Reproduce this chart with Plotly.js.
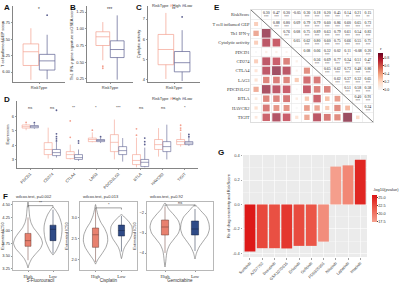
<!DOCTYPE html>
<html><head><meta charset="utf-8">
<script src="https://cdn.plot.ly/plotly-3.0.1.min.js"></script>
<style>html,body{margin:0;padding:0;background:#fff}#chart{width:400px;height:285px}</style>
</head><body><div id="chart"></div>
<script>
// ---------------- DATA ----------------
const groups = ["High", "Low"];
// Panel A - T cell inflamed GEP score
const A_q1 = [6.10, 6.03], A_med = [6.31, 6.17], A_q3 = [6.43, 6.27], A_lo = [5.88, 5.89], A_hi = [6.67, 6.57];
const A_outGroup = [1], A_outVal = [6.87], A_sig = "*";
// Panel B - Th1 IFN-γ gene signature ssGSEA score
const B_q1 = [0.75, 0.57], B_med = [0.88, 0.69], B_q3 = [0.955, 0.82], B_lo = [0.53, 0.24], B_hi = [1.10, 1.20];
const B_outGroup = [0, 0], B_outVal = [0.44, 0.41], B_sig = "***";
// Panel C - Cytolytic activity
const C_q1 = [4.75, 4.40], C_med = [5.50, 4.85], C_q3 = [6.24, 5.40], C_lo = [4.05, 3.95], C_hi = [7.30, 6.45];
const C_outGroup = [1], C_outVal = [7.10], C_sig = "**";
// Panel D - checkpoint expression
const D_genes = ["PDCD1", "CD274", "CTLA4", "LAG3", "PDCD1LG2", "BTLA", "HAVCR2", "TIGIT"];
const D_high_q1  = [5.20, 3.34, 3.06, 4.25, 3.55, 2.64, 3.70, 4.04];
const D_high_med = [5.30, 3.70, 3.34, 4.40, 4.20, 2.93, 4.04, 4.25];
const D_high_q3  = [5.42, 4.18, 3.55, 4.50, 4.74, 3.34, 4.40, 4.40];
const D_high_lo  = [5.05, 3.06, 3.00, 4.20, 3.00, 2.45, 3.20, 3.90];
const D_high_hi  = [5.50, 5.23, 4.04, 4.90, 5.80, 4.53, 5.20, 4.90];
const D_low_q1   = [5.22, 3.27, 3.00, 4.25, 3.34, 2.50, 3.55, 4.04];
const D_low_med  = [5.30, 3.48, 3.13, 4.33, 3.62, 2.80, 3.90, 4.15];
const D_low_q3   = [5.38, 3.70, 3.34, 4.40, 3.90, 3.00, 4.25, 4.25];
const D_low_lo   = [5.15, 3.13, 2.90, 4.15, 2.85, 2.45, 3.00, 3.95];
const D_low_hi   = [5.50, 4.25, 3.70, 4.55, 4.50, 3.83, 5.44, 4.60];
const D_sig = ["ns", "ns", "**", "*", "***", "ns", "ns", "*"];
const D_outHighGene = [0, 2, 2, 3, 5, 5, 7, 7, 7];
const D_outHighVal  = [5.60, 5.70, 4.55, 5.05, 5.15, 4.70, 5.40, 5.20, 5.05];
const D_outLowGene  = [0, 1, 1, 1, 1, 1, 2, 2, 3, 5, 5, 5, 7, 7];
const D_outLowVal   = [5.58, 6.45, 4.80, 4.60, 4.45, 4.30, 4.30, 4.15, 4.60, 4.50, 4.25, 4.05, 4.75, 4.60];
// Panel E - correlation matrix (upper triangle, row by row)
const E_labels = ["RiskScore", "T cell inflamed GEP", "Th1 IFN-γ", "Cytolytic activity", "PDCD1", "CD274", "CTLA4", "LAG3", "PDCD1LG2", "BTLA", "HAVCR2", "TIGIT"];
const E_r0 = [0.30, 0.47, 0.30, -0.05, 0.30, 0.18, 0.20, 0.45, 0.14, 0.21, 0.15];
const E_r1 = [0.88, 0.80, 0.09, 0.79, 0.79, 0.60, 0.86, 0.60, 0.65, 0.73];
const E_r2 = [0.76, 0.08, 0.75, 0.89, 0.63, 0.79, 0.61, 0.54, 0.83];
const E_r3 = [0.05, 0.62, 0.80, 0.60, 0.75, 0.66, 0.55, 0.75];
const E_r4 = [0.08, 0.06, 0.32, 0.02, 0.11, -0.08, 0.20];
const E_r5 = [0.56, 0.69, 0.77, 0.34, 0.51, 0.47];
const E_r6 = [0.65, 0.62, 0.73, 0.48, 0.80];
const E_r7 = [0.62, 0.37, 0.32, 0.65];
const E_r8 = [0.51, 0.58, 0.58];
const E_r9 = [0.40, 0.91];
const E_r10 = [0.24];
const E_s0 = ["***", "***", "***", "", "***", "***", "***", "***", "**", "***", "**"];
const E_s1 = ["***", "***", "", "***", "***", "***", "***", "***", "***", "***"];
const E_s2 = ["***", "", "***", "***", "***", "***", "***", "***", "***"];
const E_s3 = ["", "***", "***", "***", "***", "***", "***", "***"];
const E_s4 = ["", "", "***", "", "*", "", "***"];
const E_s5 = ["***", "***", "***", "***", "***", "***"];
const E_s6 = ["***", "***", "***", "***", "***"];
const E_s7 = ["***", "***", "***", "***"];
const E_s8 = ["***", "***", "***"];
const E_s9 = ["***", "***"];
const E_s10 = ["***"];
// Panel F - estimated IC50
const F_drugs = ["5-Fluorouracil", "Cisplatin", "Gemcitabine"];
const F_titles = ["wilcox.test, p=0.002", "wilcox.test, p=0.013", "wilcox.test, p=0.92"];
const F_sig = ["**", "*", "ns"];
const F_high_q1 = [3.69, 2.30, -3.10], F_high_med = [3.80, 2.60, -2.70], F_high_q3 = [3.94, 2.76, -2.35], F_high_lo = [3.42, 1.95, -4.00], F_high_hi = [4.25, 3.20, -1.70];
const F_low_q1 = [3.80, 2.57, -3.10], F_low_med = [4.02, 2.70, -2.80], F_low_q3 = [4.10, 2.83, -2.40], F_low_lo = [3.55, 2.20, -3.90], F_low_hi = [4.40, 3.05, -1.80];
const F_bracket = [4.48, 3.24, -1.60];
// violin density profiles: levels and half-widths
const F1_high_lv = [4.55, 4.45, 4.35, 4.25, 4.15, 4.05, 3.95, 3.85, 3.75, 3.65, 3.55, 3.45, 3.35, 3.27];
const F1_high_w  = [0.00, 0.03, 0.05, 0.07, 0.12, 0.22, 0.38, 0.52, 0.58, 0.50, 0.32, 0.15, 0.05, 0.00];
const F1_low_lv  = [4.45, 4.38, 4.30, 4.20, 4.10, 4.00, 3.90, 3.80, 3.70, 3.60, 3.52];
const F1_low_w   = [0.00, 0.12, 0.22, 0.30, 0.35, 0.36, 0.34, 0.30, 0.22, 0.12, 0.00];
const F2_high_lv = [3.32, 3.20, 3.05, 2.90, 2.75, 2.60, 2.45, 2.30, 2.15, 2.00, 1.90];
const F2_high_w  = [0.00, 0.04, 0.10, 0.20, 0.35, 0.45, 0.47, 0.40, 0.25, 0.08, 0.00];
const F2_low_lv  = [3.08, 3.00, 2.90, 2.80, 2.70, 2.60, 2.50, 2.40, 2.30, 2.20, 2.10, 2.03];
const F2_low_w   = [0.00, 0.15, 0.30, 0.40, 0.42, 0.40, 0.33, 0.22, 0.12, 0.06, 0.03, 0.00];
const F3_high_lv = [-1.5, -1.8, -2.1, -2.4, -2.7, -3.0, -3.3, -3.6, -3.9, -4.2, -4.5, -4.7];
const F3_high_w  = [0.00, 0.12, 0.30, 0.45, 0.50, 0.45, 0.30, 0.15, 0.07, 0.04, 0.02, 0.00];
const F3_low_lv  = [-1.6, -1.9, -2.2, -2.5, -2.8, -3.1, -3.4, -3.7, -4.0, -4.3];
const F3_low_w   = [0.00, 0.20, 0.38, 0.46, 0.48, 0.42, 0.28, 0.14, 0.05, 0.00];
// Panel G - drug sensitivity correlation
const G_drugs = ["Sunitinib", "AZD7762", "Bosutinib", "GSK1070916", "Erlotinib", "Gefitinib", "PD0325901", "Nilotinib", "Lapatinib", "Imatinib"];
const G_rs = [-0.385, -0.358, -0.358, -0.36, -0.339, -0.339, -0.304, 0.31, 0.32, 0.366];
const G_mlogp = [25.6, 22.8, 22.3, 23.8, 22.6, 22.0, 18.5, 17.4, 18.9, 24.8];

// ---------------- STYLE / HELPERS ----------------
const W = 400, H = 285;
const colHigh = "#F3A08F", colLow = "#5C6090";
const gcol = [colHigh, colLow];
const dodge = [-0.1875, 0.1875];
const SANS = "Liberation Sans, Arial, sans-serif", SERIF = "Liberation Serif, Times New Roman, serif";
function xd(a, b) { return [a / W, b / W]; }
function yd(t, b) { return [1 - b / H, 1 - t / H]; }
function statBox(xa, ya, xs, q1, med, q3, lo, hi, lc, fill, width, lw) {
  return {type: 'box', xaxis: xa, yaxis: ya, x: xs, q1: q1, median: med, q3: q3, lowerfence: lo, upperfence: hi,
    width: width, line: {color: lc, width: lw}, fillcolor: fill, whiskerwidth: 0, boxpoints: false, hoverinfo: 'skip', showlegend: false};
}
const tickF = {size: 4, family: SANS, color: '#333'};
function classic(extra) {
  return Object.assign({type: 'linear', showline: true, linecolor: '#333', linewidth: 0.6, ticks: 'outside', ticklen: 1.5, tickwidth: 0.5,
    tickcolor: '#333', showgrid: false, zeroline: false, tickfont: tickF, automargin: false, fixedrange: true}, extra);
}
const traces = [], annotations = [], shapes = [];
const layout = {width: W, height: H, margin: {l: 0, r: 0, t: 0, b: 0, autoexpand: false}, showlegend: false, boxmode: 'overlay',
  paper_bgcolor: '#fff', plot_bgcolor: 'rgba(0,0,0,0)', font: {family: SANS, size: 4, color: '#333'}};

// ---------------- PANELS A-C ----------------
const ABC = [
  {id: '', q1: A_q1, med: A_med, q3: A_q3, lo: A_lo, hi: A_hi, og: A_outGroup, ov: A_outVal, sig: A_sig,
   dom: [13, 65], range: [5.847, 7.01], tv: [6.00, 6.25, 6.50, 6.75], fmt: '.2f', title: 'T cell inflamed GEP score'},
  {id: '2', q1: B_q1, med: B_med, q3: B_q3, lo: B_lo, hi: B_hi, og: B_outGroup, ov: B_outVal, sig: B_sig,
   dom: [87, 133], range: [0.205, 1.34], tv: [0.25, 0.50, 0.75, 1.00, 1.25], fmt: '.2f', title: 'Th1 IFN-γ gene signature ssGSEA score'},
  {id: '3', q1: C_q1, med: C_med, q3: C_q3, lo: C_lo, hi: C_hi, og: C_outGroup, ov: C_outVal, sig: C_sig,
   dom: [148, 200], range: [3.9, 7.64], tv: [4, 5, 6, 7], fmt: 'd', title: 'Cytolytic activity'}
];
ABC.forEach(p => {
  const xa = 'x' + p.id, ya = 'y' + p.id;
  [0, 1].forEach(g => traces.push(statBox(xa, ya, [dodge[g]], [p.q1[g]], [p.med[g]], [p.q3[g]], [p.lo[g]], [p.hi[g]], gcol[g], '#fff', 0.36, 0.7)));
  traces.push({type: 'scatter', mode: 'markers', xaxis: xa, yaxis: ya, x: p.og.map(g => dodge[g]), y: p.ov,
    marker: {size: 1.8, color: p.og.map(g => gcol[g])}, hoverinfo: 'skip'});
  layout['xaxis' + p.id] = classic({domain: xd(p.dom[0], p.dom[1]), anchor: ya, range: [-0.6, 0.6], tickmode: 'array', tickvals: [0], ticktext: ['RiskType']});
  layout['yaxis' + p.id] = classic({domain: yd(6, 82), anchor: xa, range: p.range, tickmode: 'array', tickvals: p.tv, tickformat: p.fmt,
    title: {text: p.title, font: {size: 4, family: SANS, color: '#333'}, standoff: 2}});
  annotations.push({xref: xa, yref: 'paper', x: 0, y: 1 - 5 / H, yanchor: 'top', text: p.sig, showarrow: false, font: {size: 4.5, color: '#333'}});
});
const legText = "RiskType <span style='color:" + colHigh + "'>⊟</span>High <span style='color:" + colLow + "'>⊟</span>Low";
annotations.push({xref: 'paper', yref: 'paper', x: 150 / W, y: 1 - 1 / H, xanchor: 'left', yanchor: 'top', text: legText, showarrow: false, font: {size: 4, color: '#333'}});

// ---------------- PANEL D ----------------
const dHX = D_genes.map((_, i) => i + dodge[0]), dLX = D_genes.map((_, i) => i + dodge[1]);
traces.push(statBox('x4', 'y4', dHX, D_high_q1, D_high_med, D_high_q3, D_high_lo, D_high_hi, colHigh, '#fff', 0.36, 0.6));
traces.push(statBox('x4', 'y4', dLX, D_low_q1, D_low_med, D_low_q3, D_low_lo, D_low_hi, colLow, '#fff', 0.36, 0.6));
traces.push({type: 'scatter', mode: 'markers', xaxis: 'x4', yaxis: 'y4', x: D_outHighGene.map(i => i + dodge[0]), y: D_outHighVal, marker: {size: 1.8, color: colHigh}, hoverinfo: 'skip'});
traces.push({type: 'scatter', mode: 'markers', xaxis: 'x4', yaxis: 'y4', x: D_outLowGene.map(i => i + dodge[1]), y: D_outLowVal, marker: {size: 1.8, color: colLow}, hoverinfo: 'skip'});
layout.xaxis4 = classic({domain: xd(17, 198), anchor: 'y4', range: [-0.6, D_genes.length - 0.4], tickmode: 'array', tickvals: D_genes.map((_, i) => i), ticktext: D_genes, tickangle: -45});
layout.yaxis4 = classic({domain: yd(101, 168), anchor: 'x4', range: [2.4, 7.1], tickmode: 'array', tickvals: [3, 4, 5, 6],
  title: {text: 'Expression', font: {size: 4, family: SANS, color: '#333'}, standoff: 2}});
D_sig.forEach((s, i) => annotations.push({xref: 'x4', yref: 'paper', x: i, y: 1 - 103 / H, yanchor: 'top', text: s, showarrow: false, font: {size: 4, color: '#333'}}));
annotations.push({xref: 'paper', yref: 'paper', x: 150 / W, y: 1 - 94 / H, xanchor: 'left', yanchor: 'top', text: legText, showarrow: false, font: {size: 4, color: '#333'}});

// ---------------- PANEL E ----------------
const E_upper = [E_r0, E_r1, E_r2, E_r3, E_r4, E_r5, E_r6, E_r7, E_r8, E_r9, E_r10];
const E_stars = [E_s0, E_s1, E_s2, E_s3, E_s4, E_s5, E_s6, E_s7, E_s8, E_s9, E_s10];
const n = E_labels.length;
const M = [...Array(n)].map(() => Array(n).fill(1));
E_upper.forEach((row, i) => row.forEach((v, k) => { const j = i + 1 + k; M[i][j] = v; M[j][i] = v; }));
const lx = [], ly = [], ls = [], lc = [];
for (let i = 0; i < n; i++) for (let j = 0; j < i; j++) { lx.push(j); ly.push(i); ls.push(1.6 + 8 * Math.abs(M[i][j])); lc.push(M[i][j]); }
const E_scale = [[0, '#F7F7F7'], [0.22, '#FDDBC7'], [0.42, '#F4A582'], [0.62, '#D6604D'], [0.82, '#B2182B'], [1, '#67001F']];
traces.push({type: 'scatter', mode: 'markers', xaxis: 'x5', yaxis: 'y5', x: lx, y: ly, hoverinfo: 'skip',
  marker: {symbol: 'square', size: ls, color: lc, colorscale: E_scale, cmin: -0.02, cmax: 0.93, line: {width: 0},
    showscale: true, colorbar: {x: 378 / W, xanchor: 'left', y: 1 - 53 / H, yanchor: 'top', len: 37, lenmode: 'pixels', ypad: 0, xpad: 0,
      thickness: 5, thicknessmode: 'pixels', outlinewidth: 0, ticklen: 1, tickmode: 'array', tickvals: [0, 0.2, 0.4, 0.6, 0.8], ticktext: ['0.0', '0.2', '0.4', '0.6', '0.8'],
      tickfont: {size: 4, family: SERIF, color: '#333'}}}});
annotations.push({xref: 'paper', yref: 'paper', x: 378 / W, y: 1 - 53 / H, xanchor: 'left', yanchor: 'bottom', text: 'r', showarrow: false, font: {size: 5, family: SERIF, color: '#333'}});
const ux = [], uy = [], ut = [], sy = [], st = [];
E_upper.forEach((row, i) => row.forEach((v, k) => { const j = i + 1 + k; ux.push(j); uy.push(i - 0.12); ut.push(v.toFixed(2)); sy.push(i + 0.3); st.push(E_stars[i][k]); }));
traces.push({type: 'scatter', mode: 'text', xaxis: 'x5', yaxis: 'y5', x: ux, y: uy, text: ut, textfont: {size: 3.8, family: SERIF, color: '#222'}, hoverinfo: 'skip'});
traces.push({type: 'scatter', mode: 'text', xaxis: 'x5', yaxis: 'y5', x: ux, y: sy, text: st, textfont: {size: 3, family: SERIF, color: '#444'}, hoverinfo: 'skip'});
const half = [...Array(n + 1)].map((_, i) => i - 0.5);
layout.xaxis5 = {type: 'linear', domain: xd(251, 373), anchor: 'y5', range: [-0.5, n - 0.5], tickmode: 'array', tickvals: half, showticklabels: false, ticks: '',
  showgrid: true, gridcolor: '#e2e2e2', gridwidth: 0.5, zeroline: false, showline: true, mirror: true, linecolor: '#c8c8c8', linewidth: 0.6, automargin: false, fixedrange: true};
layout.yaxis5 = {type: 'linear', domain: yd(10, 122), anchor: 'x5', range: [n - 0.5, -0.5], tickmode: 'array', tickvals: E_labels.map((_, i) => i), ticktext: E_labels, ticks: '',
  tickfont: {size: 4.5, family: SERIF, color: '#333'}, showgrid: false, zeroline: false, showline: true, mirror: true, linecolor: '#c8c8c8', linewidth: 0.6,
  minor: {tickmode: 'array', tickvals: half, showgrid: true, gridcolor: '#e2e2e2', gridwidth: 0.5, ticks: ''}, automargin: false, fixedrange: true};
shapes.push({type: 'line', xref: 'x5', yref: 'y5', x0: -0.5, y0: -0.5, x1: n - 0.5, y1: n - 0.5, line: {color: '#555', width: 0.8}});

// ---------------- PANEL F ----------------
const F_viol = [[F1_high_lv, F1_high_w, F1_low_lv, F1_low_w], [F2_high_lv, F2_high_w, F2_low_lv, F2_low_w], [F3_high_lv, F3_high_w, F3_low_lv, F3_low_w]];
const F_cfg = [
  {id: '6', dom: [13, 68], range: [3.23, 4.55], tv: [3.25, 3.50, 3.75, 4.00, 4.25, 4.50], fmt: '.2f'},
  {id: '7', dom: [80, 137], range: [1.76, 3.38], tv: [2.0, 2.5, 3.0], fmt: '.1f'},
  {id: '8', dom: [147, 213], range: [-4.85, -1.45], tv: [-4, -3, -2], fmt: 'd'}
];
const F_fill = ['#E8806E', '#2E4A87'], F_line = ['#6b3a32', '#17233f'];
F_cfg.forEach((c, d) => {
  const xa = 'x' + c.id, ya = 'y' + c.id;
  [0, 1].forEach(g => {
    const lv = F_viol[d][2 * g], w = F_viol[d][2 * g + 1];
    const vx = lv.map((v, k) => g + w[k]).concat(lv.slice().reverse().map((v, k) => g - w[w.length - 1 - k]));
    const vy = lv.concat(lv.slice().reverse());
    traces.push({type: 'scatter', mode: 'lines', xaxis: xa, yaxis: ya, x: vx, y: vy, fill: 'toself', fillcolor: 'rgba(255,255,255,0)',
      line: {color: '#6a6a6a', width: 0.6, shape: 'spline', smoothing: 0.6}, hoverinfo: 'skip'});
  });
  traces.push(statBox(xa, ya, [0], [F_high_q1[d]], [F_high_med[d]], [F_high_q3[d]], [F_high_lo[d]], [F_high_hi[d]], F_line[0], F_fill[0], 0.24, 0.5));
  traces.push(statBox(xa, ya, [1], [F_low_q1[d]], [F_low_med[d]], [F_low_q3[d]], [F_low_lo[d]], [F_low_hi[d]], F_line[1], F_fill[1], 0.24, 0.5));
  const b = F_bracket[d], dl = (c.range[1] - c.range[0]) * 0.025;
  traces.push({type: 'scatter', mode: 'lines', xaxis: xa, yaxis: ya, x: [0, 0, 1, 1], y: [b - dl, b, b, b - dl], line: {color: '#444', width: 0.5}, hoverinfo: 'skip'});
  annotations.push({xref: xa, yref: ya, x: 0.5, y: b, yanchor: 'bottom', text: F_sig[d], showarrow: false, font: {size: 4, color: '#333'}, yshift: -1.5});
  annotations.push({xref: 'paper', yref: 'paper', x: (c.dom[0] + 1) / W, y: 1 - 201 / H, xanchor: 'left', yanchor: 'bottom', text: F_titles[d], showarrow: false, font: {size: 4, color: '#333'}});
  layout['xaxis' + c.id] = classic({domain: xd(c.dom[0], c.dom[1]), anchor: ya, range: [-0.6, 1.6], tickmode: 'array', tickvals: [0, 1], ticktext: groups, mirror: true, linecolor: '#888',
    tickfont: {size: 4.5, family: SERIF, color: '#333'}, title: {text: F_drugs[d], font: {size: 4.5, family: SANS, color: '#333'}, standoff: 1}});
  layout['yaxis' + c.id] = classic({domain: yd(202, 270), anchor: xa, range: c.range, tickmode: 'array', tickvals: c.tv, tickformat: c.fmt, mirror: true, linecolor: '#888',
    title: {text: 'Estimated IC50', font: {size: 4, family: SANS, color: '#333'}, standoff: 2}});
});

// ---------------- PANEL G ----------------
traces.push({type: 'bar', xaxis: 'x9', yaxis: 'y9', x: G_drugs.map((_, i) => i), y: G_rs, width: 0.88, hoverinfo: 'skip',
  marker: {color: G_mlogp, colorscale: [[0, '#F5A08E'], [0.5, '#EC5C4C'], [1, '#DC1414']], cmin: 17.3, cmax: 25.9, line: {width: 0},
    showscale: true, colorbar: {x: 372 / W, xanchor: 'left', y: 1 - 195 / H, yanchor: 'top', len: 27, lenmode: 'pixels', ypad: 0, xpad: 0, thickness: 5, thicknessmode: 'pixels',
      outlinewidth: 0, ticklen: 1, tickmode: 'array', tickvals: [17.5, 20, 22.5, 25], ticktext: ['17.5', '20.0', '22.5', '25.0'], tickfont: {size: 3.8, color: '#333'}}}});
annotations.push({xref: 'paper', yref: 'paper', x: 371 / W, y: 1 - 194 / H, xanchor: 'left', yanchor: 'bottom', text: '-log10(pvalue)', showarrow: false, font: {size: 4, color: '#333'}});
shapes.push({type: 'rect', xref: 'x9 domain', yref: 'y9 domain', x0: 0, x1: 1, y0: 0, y1: 1, fillcolor: '#EBEBEB', line: {width: 0}, layer: 'below'});
layout.xaxis9 = {type: 'linear', domain: xd(243, 367), anchor: 'y9', range: [-0.57, G_drugs.length - 0.45], tickmode: 'array', tickvals: G_drugs.map((_, i) => i), ticktext: G_drugs, tickangle: -45,
  tickfont: {size: 4, family: SANS, color: '#444'}, ticks: 'outside', ticklen: 1.5, tickwidth: 0.5, tickcolor: '#444', showgrid: true, gridcolor: '#fff', gridwidth: 0.6,
  zeroline: false, showline: false, automargin: false, fixedrange: true};
layout.yaxis9 = {type: 'linear', domain: yd(155, 257), anchor: 'x9', range: [-0.43, 0.405], tickmode: 'array', tickvals: [-0.4, -0.2, 0, 0.2, 0.4], ticktext: ['-0.4', '-0.2', '0.0', '0.2', '0.4'],
  tickfont: {size: 4, family: SANS, color: '#444'}, ticks: 'outside', ticklen: 1.5, tickwidth: 0.5, tickcolor: '#444', showgrid: true, gridcolor: '#fff', gridwidth: 0.6,
  minor: {tickmode: 'array', tickvals: [-0.3, -0.1, 0.1, 0.3], showgrid: true, gridcolor: '#fff', gridwidth: 0.3, ticks: ''}, zeroline: false, showline: false, automargin: false, fixedrange: true,
  title: {text: 'Rs of drug sensitivity and RiskScore', font: {size: 4, family: SANS, color: '#333'}, standoff: 2}};

// ---------------- PANEL LETTERS ----------------
[['A', 2, 1], ['B', 68, 1], ['C', 134, 1], ['D', 2, 93], ['E', 212, 1], ['F', 1, 190], ['G', 216, 146]].forEach(l =>
  annotations.push({xref: 'paper', yref: 'paper', x: l[1] / W, y: 1 - l[2] / H, xanchor: 'left', yanchor: 'top', text: '<b>' + l[0] + '</b>', showarrow: false,
    font: {size: 8, family: SANS, color: '#111'}}));

layout.annotations = annotations;
layout.shapes = shapes;
Plotly.newPlot('chart', traces, layout, {staticPlot: true, displayModeBar: false});
</script>
</body></html>
